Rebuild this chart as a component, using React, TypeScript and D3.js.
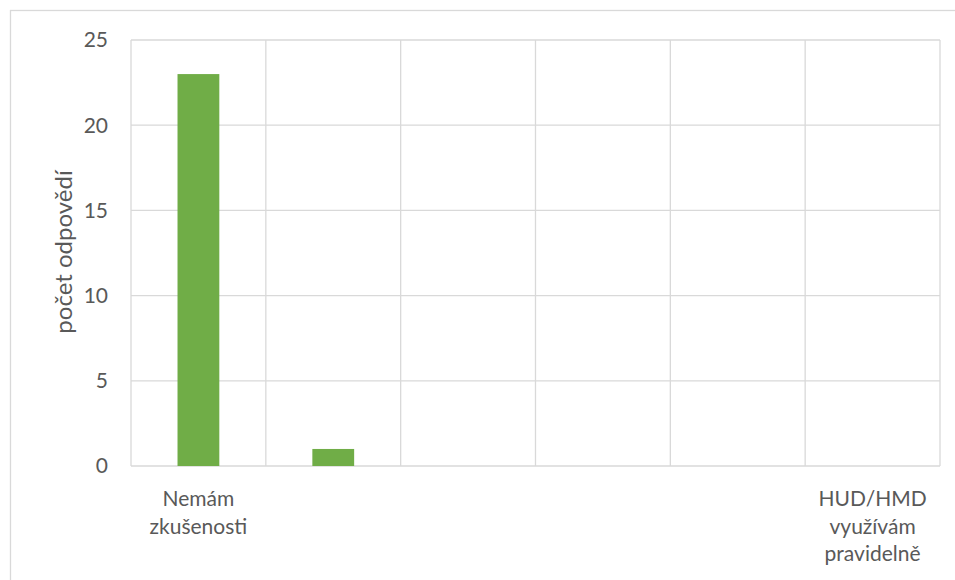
import React from "react";
import * as d3 from "d3";

const categories: string[] = [
  "Nemám\nzkušenosti",
  "",
  "",
  "",
  "",
  "HUD/HMD\nvyužívám\npravidelně",
];
const values: number[] = [23, 1, 0, 0, 0, 0];
const yTicks: number[] = [0, 5, 10, 15, 20, 25];
const yTitle = "počet odpovědí";

const W = 955;
const H = 580;
const M = { left: 131, right: 940, top: 40, bottom: 466 };
const FONT = "Lato, 'Open Sans', sans-serif";
const TEXT = "#595959";
const GRID = "#d9d9d9";
const BAR = "#70ad47";

export default function App() {
  const idx = categories.map((_, i) => String(i));
  const x = d3
    .scaleBand<string>()
    .domain(idx)
    .range([M.left, M.right])
    .paddingInner(0.69)
    .paddingOuter(0.345);
  const y = d3.scaleLinear().domain([0, 25]).range([M.bottom, M.top]);
  const step = x.step();
  const bounds = d3.range(categories.length + 1).map((i) =>
    i < categories.length
      ? (x(String(i)) as number) - (step * 0.69) / 2
      : (x(String(i - 1)) as number) + x.bandwidth() + (step * 0.69) / 2
  );

  return (
    <svg
      width={W}
      height={H}
      style={{ position: "absolute", left: 0, top: 0, background: "#fff" }}
      fontFamily={FONT}
    >
      <rect x={10.5} y={10.5} width={W} height={H} fill="#fff" stroke={GRID} strokeWidth={1.3} />
      {yTicks.map((t) => (
        <line key={"h" + t} x1={M.left} x2={M.right} y1={y(t)} y2={y(t)} stroke={GRID} strokeWidth={1.3} />
      ))}
      {bounds.map((b, i) => (
        <line key={"v" + i} x1={b} x2={b} y1={M.top} y2={M.bottom} stroke={GRID} strokeWidth={1.3} />
      ))}
      {values.map((v, i) =>
        v > 0 ? (
          <rect
            key={"b" + i}
            x={x(String(i)) as number}
            y={y(v)}
            width={x.bandwidth()}
            height={y(0) - y(v)}
            fill={BAR}
          />
        ) : null
      )}
      {yTicks.map((t) => (
        <text
          key={"t" + t}
          x={108}
          y={y(t)}
          dy="0.35em"
          textAnchor="end"
          fontSize={21}
          fill={TEXT}
        >
          {t}
        </text>
      ))}
      {categories.map((c, i) => {
        const cx = (x(String(i)) as number) + x.bandwidth() / 2;
        return c
          .split("\n")
          .filter((s) => s.length > 0)
          .map((line, j) => (
            <text
              key={"c" + i + "-" + j}
              x={cx}
              y={506 + j * 27.5}
              textAnchor="middle"
              fontSize={21}
              fill={TEXT}
            >
              {line}
            </text>
          ));
      })}
      <text
        transform={`translate(72, 252) rotate(-90)`}
        textAnchor="middle"
        fontSize={24}
        fill={TEXT}
      >
        {yTitle}
      </text>
    </svg>
  );
}
